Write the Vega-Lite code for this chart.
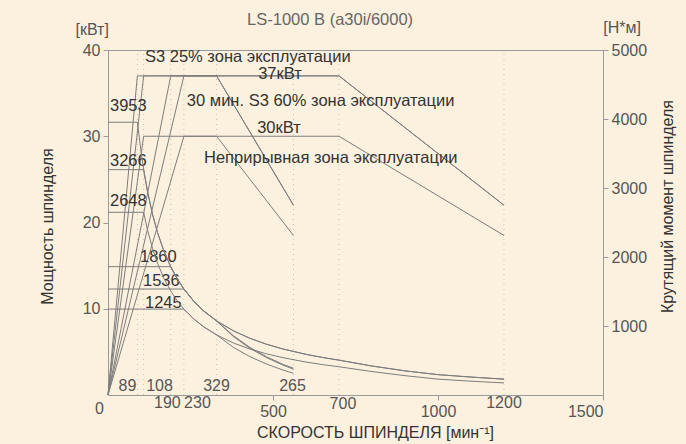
{
  "$schema": "https://vega.github.io/schema/vega-lite/v6.json",
  "width": 495,
  "height": 345,
  "autosize": "none",
  "padding": {"left": 108, "top": 50, "right": 83, "bottom": 49},
  "background": "#fcf1de",
  "config": {
    "view": {"stroke": "#9a9a9a", "strokeWidth": 1},
    "font": "Liberation Sans",
    "axis": {"domain": false, "grid": false, "labelFont": "Liberation Sans", "labelFontSize": 16, "labelColor": "#555", "tickColor": "#999", "tickSize": 5, "titleFont": "Liberation Sans", "titleFontSize": 16, "titleFontWeight": "normal", "titleColor": "#333"},
    "text": {"font": "Liberation Sans", "fontSize": 16, "color": "#333"}
  },
  "datasets": {
    "guides": [{"rpm": 89}, {"rpm": 108}, {"rpm": 190}, {"rpm": 230}, {"rpm": 329}, {"rpm": 562}, {"rpm": 700}, {"rpm": 1200}],
    "power": [
      {"curve": "low_s3_25", "rpm": 0, "kw": 0}, {"curve": "low_s3_25", "rpm": 89, "kw": 37}, {"curve": "low_s3_25", "rpm": 329, "kw": 37}, {"curve": "low_s3_25", "rpm": 562, "kw": 22},
      {"curve": "low_s3_60", "rpm": 0, "kw": 0}, {"curve": "low_s3_60", "rpm": 108, "kw": 37}, {"curve": "low_s3_60", "rpm": 329, "kw": 37}, {"curve": "low_s3_60", "rpm": 562, "kw": 22},
      {"curve": "low_cont", "rpm": 0, "kw": 0}, {"curve": "low_cont", "rpm": 108, "kw": 30}, {"curve": "low_cont", "rpm": 329, "kw": 30}, {"curve": "low_cont", "rpm": 562, "kw": 18.5},
      {"curve": "high_s3_25", "rpm": 0, "kw": 0}, {"curve": "high_s3_25", "rpm": 190, "kw": 37}, {"curve": "high_s3_25", "rpm": 700, "kw": 37}, {"curve": "high_s3_25", "rpm": 1200, "kw": 22},
      {"curve": "high_s3_60", "rpm": 0, "kw": 0}, {"curve": "high_s3_60", "rpm": 230, "kw": 37}, {"curve": "high_s3_60", "rpm": 700, "kw": 37}, {"curve": "high_s3_60", "rpm": 1200, "kw": 22},
      {"curve": "high_cont", "rpm": 0, "kw": 0}, {"curve": "high_cont", "rpm": 230, "kw": 30}, {"curve": "high_cont", "rpm": 700, "kw": 30}, {"curve": "high_cont", "rpm": 1200, "kw": 18.5}
    ],
    "torque": [
      {"curve": "t_low_25", "rpm": 0, "nm": 3953}, {"curve": "t_low_25", "rpm": 89, "nm": 3953}, {"curve": "t_low_25", "rpm": 100, "nm": 3533}, {"curve": "t_low_25", "rpm": 110, "nm": 3212}, {"curve": "t_low_25", "rpm": 120, "nm": 2944}, {"curve": "t_low_25", "rpm": 135, "nm": 2617}, {"curve": "t_low_25", "rpm": 150, "nm": 2355}, {"curve": "t_low_25", "rpm": 170, "nm": 2078}, {"curve": "t_low_25", "rpm": 190, "nm": 1860}, {"curve": "t_low_25", "rpm": 210, "nm": 1682}, {"curve": "t_low_25", "rpm": 230, "nm": 1536}, {"curve": "t_low_25", "rpm": 260, "nm": 1359}, {"curve": "t_low_25", "rpm": 290, "nm": 1218}, {"curve": "t_low_25", "rpm": 329, "nm": 1074}, {"curve": "t_low_25", "rpm": 380, "nm": 847}, {"curve": "t_low_25", "rpm": 430, "nm": 677}, {"curve": "t_low_25", "rpm": 480, "nm": 543}, {"curve": "t_low_25", "rpm": 530, "nm": 433}, {"curve": "t_low_25", "rpm": 562, "nm": 374},
      {"curve": "t_low_60", "rpm": 0, "nm": 3266}, {"curve": "t_low_60", "rpm": 108, "nm": 3266}, {"curve": "t_low_60", "rpm": 120, "nm": 2944}, {"curve": "t_low_60", "rpm": 135, "nm": 2617}, {"curve": "t_low_60", "rpm": 150, "nm": 2355}, {"curve": "t_low_60", "rpm": 170, "nm": 2078}, {"curve": "t_low_60", "rpm": 190, "nm": 1860}, {"curve": "t_low_60", "rpm": 210, "nm": 1682}, {"curve": "t_low_60", "rpm": 230, "nm": 1536}, {"curve": "t_low_60", "rpm": 260, "nm": 1359}, {"curve": "t_low_60", "rpm": 290, "nm": 1218}, {"curve": "t_low_60", "rpm": 329, "nm": 1074}, {"curve": "t_low_60", "rpm": 380, "nm": 860}, {"curve": "t_low_60", "rpm": 430, "nm": 690}, {"curve": "t_low_60", "rpm": 480, "nm": 555}, {"curve": "t_low_60", "rpm": 530, "nm": 445}, {"curve": "t_low_60", "rpm": 562, "nm": 388},
      {"curve": "t_low_cont", "rpm": 0, "nm": 2648}, {"curve": "t_low_cont", "rpm": 108, "nm": 2648}, {"curve": "t_low_cont", "rpm": 120, "nm": 2387}, {"curve": "t_low_cont", "rpm": 135, "nm": 2122}, {"curve": "t_low_cont", "rpm": 150, "nm": 1910}, {"curve": "t_low_cont", "rpm": 170, "nm": 1685}, {"curve": "t_low_cont", "rpm": 190, "nm": 1508}, {"curve": "t_low_cont", "rpm": 210, "nm": 1364}, {"curve": "t_low_cont", "rpm": 230, "nm": 1245}, {"curve": "t_low_cont", "rpm": 260, "nm": 1102}, {"curve": "t_low_cont", "rpm": 290, "nm": 988}, {"curve": "t_low_cont", "rpm": 329, "nm": 871}, {"curve": "t_low_cont", "rpm": 380, "nm": 690}, {"curve": "t_low_cont", "rpm": 430, "nm": 556}, {"curve": "t_low_cont", "rpm": 480, "nm": 449}, {"curve": "t_low_cont", "rpm": 530, "nm": 362}, {"curve": "t_low_cont", "rpm": 562, "nm": 314},
      {"curve": "t_high_25", "rpm": 0, "nm": 1860}, {"curve": "t_high_25", "rpm": 190, "nm": 1860}, {"curve": "t_high_25", "rpm": 210, "nm": 1682}, {"curve": "t_high_25", "rpm": 230, "nm": 1536}, {"curve": "t_high_25", "rpm": 260, "nm": 1359}, {"curve": "t_high_25", "rpm": 290, "nm": 1218}, {"curve": "t_high_25", "rpm": 329, "nm": 1074}, {"curve": "t_high_25", "rpm": 380, "nm": 930}, {"curve": "t_high_25", "rpm": 430, "nm": 822}, {"curve": "t_high_25", "rpm": 480, "nm": 736}, {"curve": "t_high_25", "rpm": 530, "nm": 667}, {"curve": "t_high_25", "rpm": 600, "nm": 589}, {"curve": "t_high_25", "rpm": 650, "nm": 544}, {"curve": "t_high_25", "rpm": 700, "nm": 505}, {"curve": "t_high_25", "rpm": 800, "nm": 420}, {"curve": "t_high_25", "rpm": 900, "nm": 350}, {"curve": "t_high_25", "rpm": 1000, "nm": 295}, {"curve": "t_high_25", "rpm": 1100, "nm": 260}, {"curve": "t_high_25", "rpm": 1200, "nm": 230},
      {"curve": "t_high_60", "rpm": 0, "nm": 1536}, {"curve": "t_high_60", "rpm": 230, "nm": 1536}, {"curve": "t_high_60", "rpm": 260, "nm": 1359}, {"curve": "t_high_60", "rpm": 290, "nm": 1218}, {"curve": "t_high_60", "rpm": 329, "nm": 1074}, {"curve": "t_high_60", "rpm": 380, "nm": 930}, {"curve": "t_high_60", "rpm": 430, "nm": 822}, {"curve": "t_high_60", "rpm": 480, "nm": 736}, {"curve": "t_high_60", "rpm": 530, "nm": 667}, {"curve": "t_high_60", "rpm": 600, "nm": 589}, {"curve": "t_high_60", "rpm": 650, "nm": 544}, {"curve": "t_high_60", "rpm": 700, "nm": 505}, {"curve": "t_high_60", "rpm": 800, "nm": 420}, {"curve": "t_high_60", "rpm": 900, "nm": 350}, {"curve": "t_high_60", "rpm": 1000, "nm": 295}, {"curve": "t_high_60", "rpm": 1100, "nm": 260}, {"curve": "t_high_60", "rpm": 1200, "nm": 230},
      {"curve": "t_high_cont", "rpm": 0, "nm": 1245}, {"curve": "t_high_cont", "rpm": 230, "nm": 1245}, {"curve": "t_high_cont", "rpm": 260, "nm": 1102}, {"curve": "t_high_cont", "rpm": 290, "nm": 988}, {"curve": "t_high_cont", "rpm": 329, "nm": 871}, {"curve": "t_high_cont", "rpm": 380, "nm": 754}, {"curve": "t_high_cont", "rpm": 430, "nm": 666}, {"curve": "t_high_cont", "rpm": 480, "nm": 597}, {"curve": "t_high_cont", "rpm": 530, "nm": 541}, {"curve": "t_high_cont", "rpm": 600, "nm": 477}, {"curve": "t_high_cont", "rpm": 650, "nm": 441}, {"curve": "t_high_cont", "rpm": 700, "nm": 409}, {"curve": "t_high_cont", "rpm": 800, "nm": 340}, {"curve": "t_high_cont", "rpm": 900, "nm": 280}, {"curve": "t_high_cont", "rpm": 1000, "nm": 230}, {"curve": "t_high_cont", "rpm": 1100, "nm": 200}, {"curve": "t_high_cont", "rpm": 1200, "nm": 175}
    ],
    "notes": [
      {"label": "S3 25% зона эксплуатации", "rpm": 112, "kw": 39.15},
      {"label": "30 мин. S3 60% зона эксплуатации", "rpm": 239, "kw": 34.1},
      {"label": "Неприрывная зона эксплуатации", "rpm": 291, "kw": 27.5},
      {"label": "37кВт", "rpm": 455, "kw": 37.2},
      {"label": "30кВт", "rpm": 452, "kw": 30.9},
      {"label": "3953", "rpm": 6, "kw": 33.5},
      {"label": "3266", "rpm": 6, "kw": 27.1},
      {"label": "2648", "rpm": 6, "kw": 22.5},
      {"label": "1860", "rpm": 97, "kw": 16.0},
      {"label": "1536", "rpm": 106, "kw": 13.2},
      {"label": "1245", "rpm": 112, "kw": 10.7}
    ],
    "marks": [
      {"label": "89", "rpm": 59, "kw": 1.0},
      {"label": "108", "rpm": 156, "kw": 1.0},
      {"label": "329", "rpm": 329, "kw": 1.0},
      {"label": "265", "rpm": 559, "kw": 1.05},
      {"label": "190", "rpm": 180, "kw": -0.87},
      {"label": "230", "rpm": 271, "kw": -0.87},
      {"label": "0", "rpm": -26, "kw": -1.68},
      {"label": "700", "rpm": 712, "kw": -1.1},
      {"label": "1200", "rpm": 1200, "kw": -0.87},
      {"label": "[кВт]", "rpm": -48, "kw": 42.3},
      {"label": "[Н*м]", "rpm": 1558, "kw": 42.55}
    ],
    "titles": [
      {"label": "LS-1000 B (a30i/6000)", "rpm": 673, "kw": 43.5}
    ]
  },
  "layer": [
    {
      "layer": [
        {
          "data": {"name": "guides"},
          "mark": {"type": "rule", "color": "#c8c0b2", "strokeWidth": 1, "strokeDash": [1, 4]},
          "encoding": {
            "x": {"field": "rpm", "type": "quantitative"},
            "y": {"datum": 0, "type": "quantitative"},
            "y2": {"datum": 40}
          }
        },
        {
          "data": {"name": "power"},
          "mark": {"type": "line", "color": "#7d7d7d", "strokeWidth": 1},
          "encoding": {
            "x": {"field": "rpm", "type": "quantitative", "scale": {"domain": [0, 1500], "nice": false}, "axis": {"values": [500, 1000, 1500], "format": "d", "title": "СКОРОСТЬ ШПИНДЕЛЯ [мин⁻¹]", "titleX": 267, "titleY": 37, "titleAlign": "center", "titleBaseline": "middle", "labelPadding": 3}},
            "y": {"field": "kw", "type": "quantitative", "scale": {"domain": [0, 40], "nice": false}, "axis": {"orient": "left", "values": [10, 20, 30, 40], "format": "d", "title": "Мощность шпинделя", "titleX": -61, "titleY": 176, "titleAlign": "center", "titleBaseline": "middle", "labelPadding": 3}},
            "detail": {"field": "curve"}
          }
        },
        {
          "data": {"name": "notes"},
          "mark": {"type": "text", "align": "left", "baseline": "middle", "fontSize": 16.5},
          "encoding": {
            "x": {"field": "rpm", "type": "quantitative"},
            "y": {"field": "kw", "type": "quantitative"},
            "text": {"field": "label"}
          }
        },
        {
          "data": {"name": "marks"},
          "mark": {"type": "text", "align": "center", "baseline": "middle", "color": "#555"},
          "encoding": {
            "x": {"field": "rpm", "type": "quantitative"},
            "y": {"field": "kw", "type": "quantitative"},
            "text": {"field": "label"}
          }
        },
        {
          "data": {"name": "titles"},
          "mark": {"type": "text", "align": "center", "baseline": "middle", "color": "#666", "fontSize": 16.5},
          "encoding": {
            "x": {"field": "rpm", "type": "quantitative"},
            "y": {"field": "kw", "type": "quantitative"},
            "text": {"field": "label"}
          }
        }
      ]
    },
    {
      "data": {"name": "torque"},
      "mark": {"type": "line", "color": "#7d7d7d", "strokeWidth": 1},
      "encoding": {
        "x": {"field": "rpm", "type": "quantitative"},
        "y": {"field": "nm", "type": "quantitative", "scale": {"domain": [0, 5000], "nice": false}, "axis": {"orient": "right", "values": [1000, 2000, 3000, 4000, 5000], "format": "d", "title": "Крутящий момент шпинделя", "titleAngle": -90, "titleX": 64, "titleY": 156, "titleAlign": "center", "titleBaseline": "middle", "labelPadding": 3}},
        "detail": {"field": "curve"}
      }
    }
  ],
  "resolve": {"scale": {"y": "independent"}}
}
